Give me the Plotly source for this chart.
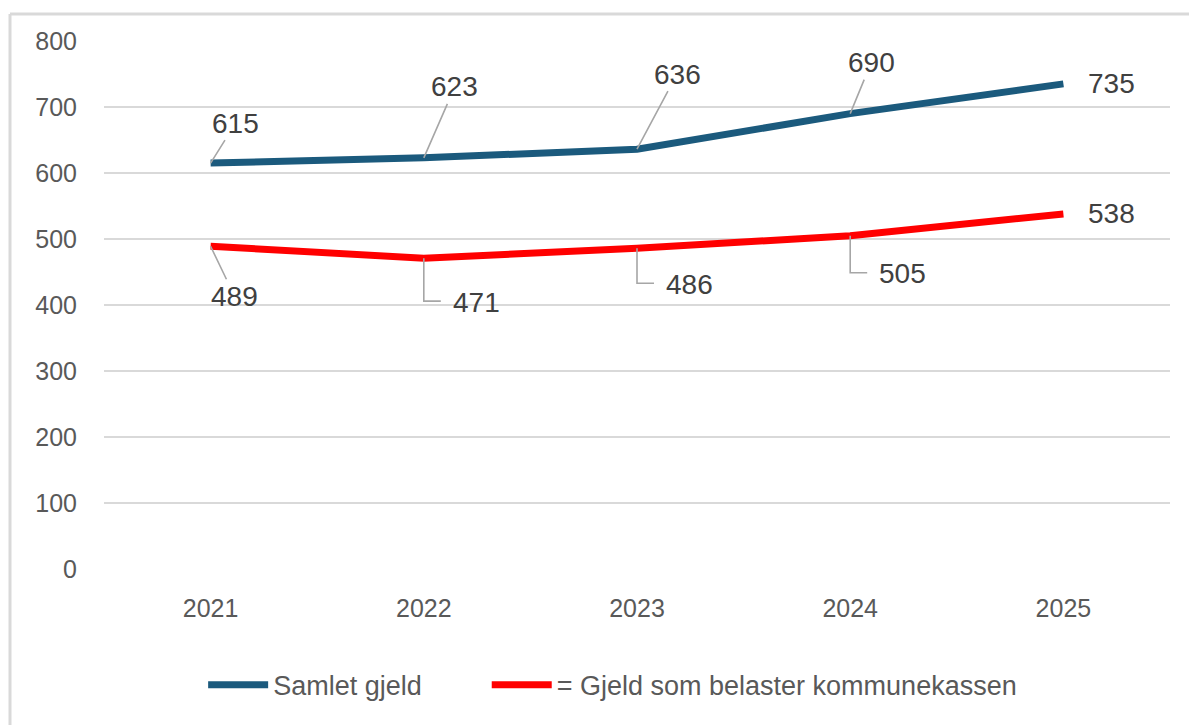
import plotly.graph_objects as go

years = [2021, 2022, 2023, 2024, 2025]
samlet = [615, 623, 636, 690, 735]
belaster = [489, 471, 486, 505, 538]
names = ["Samlet gjeld" + "\u00a0" * 8, "= Gjeld som belaster kommunekassen"]
colors = ["#1b5a7d", "#ff0000"]

# label placement styles: ("arrow", ax, ay) straight leader, ("elbow", down, right), ("plain", xshift, 0)
samlet_lbl = [("arrow", 25, -40), ("arrow", 31, -71), ("arrow", 40, -75), ("arrow", 21, -51), ("plain", 48, 0)]
belaster_lbl = [("arrow", 24, 50), ("elbow", 43, 17), ("elbow", 35, 17), ("elbow", 37, 17), ("plain", 48, 0)]

W, H = 1197, 725
ML, MR, MT, MB = 96, 35, 33, 164
pw, ph = W - ML - MR, H - MT - MB

fig = go.Figure()
for vals, nm, c in zip([samlet, belaster], names, colors):
    fig.add_trace(go.Scatter(x=years, y=vals, mode="lines", name=nm,
                             line=dict(color=c, width=7), hoverinfo="skip"))

lblfont = dict(family="Liberation Sans, Arial", size=28, color="#404040")
leader = "#a6a6a6"
ann = []
for vals, lbls in [(samlet, samlet_lbl), (belaster, belaster_lbl)]:
    for yr, v, (kind, a, b) in zip(years, vals, lbls):
        if kind == "arrow":
            ann.append(dict(x=yr, y=v, xref="x", yref="y", text=str(v), showarrow=True,
                            ax=a, ay=b, arrowhead=0, arrowwidth=1.6, arrowcolor=leader,
                            standoff=0, font=lblfont))
        elif kind == "plain":
            ann.append(dict(x=yr, y=v, xref="x", yref="y", text=str(v), showarrow=False,
                            xshift=a, font=lblfont))
        else:
            down, right = a, b
            fig.add_shape(type="path", xref="x", yref="y", xsizemode="pixel",
                          ysizemode="pixel", xanchor=yr, yanchor=v,
                          path=f"M0,0 L0,{-down} L{right},{-down}",
                          line=dict(color=leader, width=1.6))
            ann.append(dict(x=yr, y=v, xref="x", yref="y", text=str(v), showarrow=False,
                            xanchor="left", yanchor="middle", xshift=right + 10,
                            yshift=-down - 1, font=lblfont))

fig.update_layout(
    width=W, height=H,
    margin=dict(l=ML, r=MR, t=MT, b=MB),
    paper_bgcolor="white", plot_bgcolor="white",
    showlegend=True,
    legend=dict(orientation="h", x=0.093, xanchor="left", y=-0.22, yanchor="middle",
                font=dict(family="Liberation Sans Narrow, Liberation Sans", size=27, color="#595959"),
                itemwidth=60),
    annotations=ann,
    xaxis=dict(range=[2020.5, 2025.5], tickvals=years, showgrid=False, showline=False,
               zeroline=False, ticks="", ticklabelstandoff=22,
               tickfont=dict(family="Liberation Sans, Arial", size=25, color="#595959")),
    yaxis=dict(range=[0, 800], dtick=100, showgrid=True, gridcolor="#d9d9d9", gridwidth=2,
               zeroline=False, showline=False, ticks="", ticklabelstandoff=26,
               tickfont=dict(family="Liberation Sans, Arial", size=25, color="#595959")),
)

# outer frame: top and left edges
left_x = (2 - ML) / pw
top_y = 1 + (MT - 6) / ph
fig.add_shape(type="line", xref="paper", yref="paper", x0=left_x, x1=1 + MR / pw,
              y0=top_y, y1=top_y, line=dict(color="#d9d9d9", width=3))
fig.add_shape(type="line", xref="paper", yref="paper", x0=left_x, x1=left_x,
              y0=top_y, y1=-MB / ph, line=dict(color="#d9d9d9", width=3))

fig.write_html("out.html")
